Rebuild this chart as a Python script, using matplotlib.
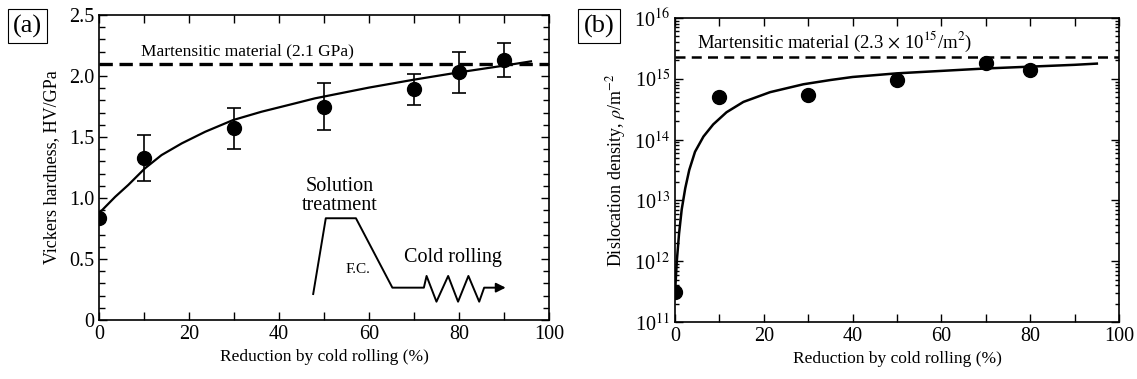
import matplotlib
matplotlib.use("Agg")
import matplotlib.pyplot as plt
from matplotlib.ticker import MultipleLocator, FuncFormatter, LogLocator, NullFormatter
import numpy as np

plt.rcParams['font.family'] = ['Liberation Serif', 'DejaVu Serif']
plt.rcParams['mathtext.fontset'] = 'stix'

# ---------------- data (a) ----------------
red_a = [0, 10, 30, 50, 70, 80, 90]
hv = [0.84, 1.33, 1.57, 1.75, 1.89, 2.03, 2.13]
hv_err = [0.0, 0.19, 0.17, 0.19, 0.13, 0.17, 0.14]
fit_a_x = [0, 3.6, 6.5, 10.2, 13.9, 18.4, 23.6, 29.8, 36.1, 43.6, 48, 60, 70, 80, 90, 96]
fit_a_y = [0.875, 1.01, 1.107, 1.243, 1.352, 1.448, 1.543, 1.639, 1.707, 1.776, 1.817,
           1.905, 1.97, 2.03, 2.085, 2.12]
mart_hv = 2.1

# inset schematic (heat-treatment path)
path_x = [47.6, 50.4, 57.1, 65.2, 72.2, 72.8, 75.0, 77.6, 79.8, 82.1, 84.5, 85.6, 89.0]
path_y = [0.213, 0.834, 0.834, 0.265, 0.265, 0.361, 0.15, 0.361, 0.15, 0.361, 0.15, 0.265, 0.265]

# ---------------- data (b) ----------------
red_b = [0, 10, 30, 50, 70, 80]
rho = [3.1e11, 5.0e14, 5.4e14, 9.6e14, 1.85e15, 1.42e15]
fit_b_x = [0, 0.4, 0.9, 1.5, 2.3, 3.2, 4.5, 6.4, 8.6, 11.6, 15.4, 21.4, 28.9, 35, 40, 50, 60, 70, 80, 90, 95]
fit_b_logy = [11.48, 12.0, 12.45, 12.85, 13.2, 13.5, 13.8, 14.05, 14.25, 14.45, 14.62, 14.78,
              14.91, 14.98, 15.03, 15.09, 15.13, 15.17, 15.2, 15.23, 15.25]
mart_rho = 2.3e15

fig = plt.figure(figsize=(11.37, 3.79), dpi=100)
axa = fig.add_axes([0.0871, 0.1557, 0.3957, 0.8047])
axb = fig.add_axes([0.5937, 0.1504, 0.3905, 0.8021])

for ax in (axa, axb):
    ax.tick_params(which='both', direction='in', top=True, right=True, labelsize=14.5, width=1.0)
    ax.tick_params(which='major', length=6)
    for s in ax.spines.values():
        s.set_linewidth(1.2)

# ---- panel (a)
axa.plot(fit_a_x, fit_a_y, color='black', lw=1.6)
axa.errorbar(red_a, hv, yerr=hv_err, fmt='o', color='black', ms=10, capsize=5, elinewidth=1.2, capthick=1.2)
axa.axhline(mart_hv, color='black', lw=2.4, ls=(0, (4, 2)))
axa.text(33, 2.2, 'Martensitic material (2.1 GPa)', fontsize=12.5, ha='center', va='center')
axa.plot(path_x, path_y, color='black', lw=1.4)
axa.annotate('', xy=(91.0, path_y[-1]), xytext=(path_x[-1] - 0.5, path_y[-1]),
             arrowprops=dict(arrowstyle='-|>', color='black', lw=1.4, mutation_scale=14))
axa.text(53.6, 1.02, 'Solution\ntreatment', fontsize=14.5, ha='center', va='center', linespacing=1.0)
axa.text(57.6, 0.41, 'F.C.', fontsize=11, ha='center', va='center')
axa.text(78.7, 0.51, 'Cold rolling', fontsize=14.5, ha='center', va='center')
axa.set_xlim(0, 100)
axa.set_ylim(0, 2.5)
axa.xaxis.set_major_locator(MultipleLocator(20))
axa.xaxis.set_minor_locator(MultipleLocator(10))
axa.yaxis.set_major_locator(MultipleLocator(0.5))
axa.yaxis.set_minor_locator(MultipleLocator(0.1))
axa.tick_params(which='minor', length=4)
axa.tick_params(axis='x', which='minor', length=6)
axa.yaxis.set_major_formatter(FuncFormatter(lambda v, p: '0' if abs(v) < 1e-9 else f'{v:.1f}'))
axa.set_xlabel('Reduction by cold rolling (%)', fontsize=12.5, labelpad=4)
axa.set_ylabel('Vickers hardness, HV/GPa', fontsize=13, labelpad=6)

# ---- panel (b)
axb.set_yscale('log')
axb.plot(fit_b_x, [10 ** v for v in fit_b_logy], color='black', lw=1.8)
axb.plot(red_b, rho, 'o', color='black', ms=10)
axb.axhline(mart_rho, color='black', lw=1.8, ls=(0, (4, 2.5)))
axb.text(5, 10 ** 15.6, r'Martensitic material (2.3 $\times$ 10$^{15}$/m$^{2}$)', fontsize=13.5, ha='left', va='center')
axb.set_xlim(0, 100)
axb.set_ylim(1e11, 1e16)
axb.xaxis.set_major_locator(MultipleLocator(20))
axb.xaxis.set_minor_locator(MultipleLocator(10))
axb.yaxis.set_major_locator(LogLocator(base=10, numticks=10))
axb.yaxis.set_minor_locator(LogLocator(base=10, subs=np.arange(2, 10), numticks=20))
axb.yaxis.set_minor_formatter(NullFormatter())
axb.tick_params(which='minor', length=3)
axb.tick_params(axis='x', which='minor', length=6)
axb.yaxis.set_major_formatter(FuncFormatter(lambda v, p: r'10$^{%d}$' % round(np.log10(v))))
axb.set_xlabel('Reduction by cold rolling (%)', fontsize=12.5, labelpad=4)
axb.set_ylabel(r'Dislocation density, $\rho$/m$^{-2}$', fontsize=13, labelpad=4)

# panel labels
fig.text(27.5 / 1137, 1 - 26 / 379, '(a)', fontsize=19, ha='center', va='center',
         bbox=dict(boxstyle='square,pad=0.2', fc='white', ec='black', lw=0.8))
fig.text(599 / 1137, 1 - 26 / 379, '(b)', fontsize=19, ha='center', va='center',
         bbox=dict(boxstyle='square,pad=0.2', fc='white', ec='black', lw=0.8))

fig.savefig('out.png', dpi=100)
